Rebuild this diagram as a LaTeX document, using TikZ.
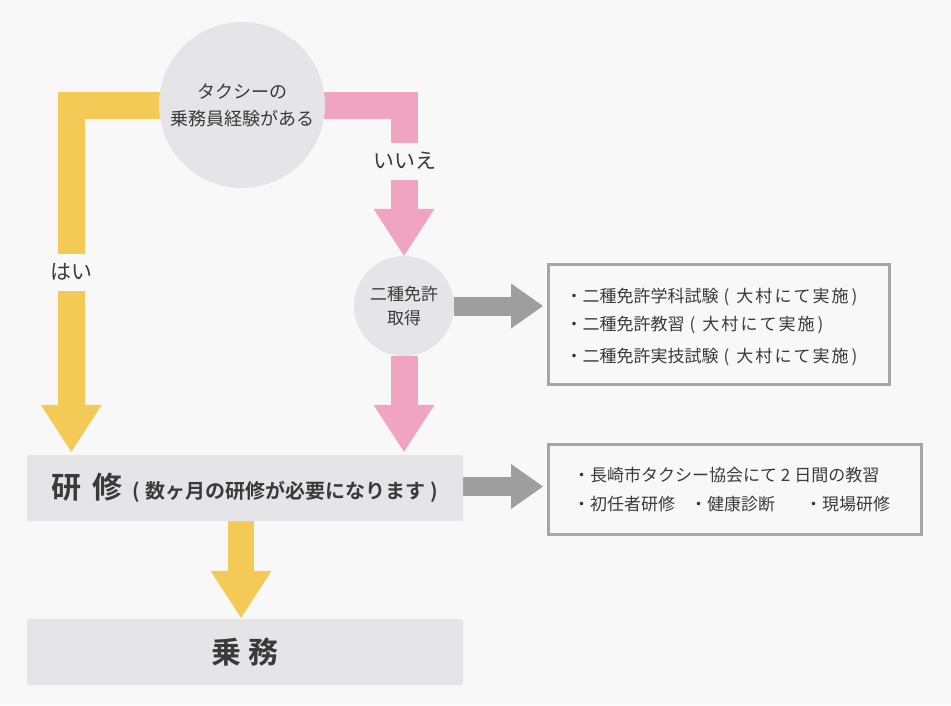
\documentclass[tikz,border=0pt]{standalone}
\usepackage{fontspec}
\setmainfont{Noto Sans CJK JP}[BoldFont={Noto Sans CJK JP Bold}]
\newfontfamily\widejp{Noto Sans CJK JP}[LetterSpace=12]
\usetikzlibrary{arrows.meta, backgrounds}

\definecolor{bgcol}{HTML}{F8F8F8}
\definecolor{yescol}{HTML}{F4CA56}
\definecolor{nocol}{HTML}{F0A4BF}
\definecolor{arrowgray}{HTML}{9E9E9E}
\definecolor{boxfill}{HTML}{E5E5E7}
\definecolor{framegray}{HTML}{A6A6A6}
\definecolor{txt}{HTML}{3A3A3A}

% 括号内的“大村にて実施”
\newcommand{\omura}{\hspace{5pt}(\hspace{7pt}{\widejp 大村にて実施}\hspace{3pt})}

\begin{document}
\begin{tikzpicture}[x=1pt, y=-1pt, text=txt,
  bubble/.style={circle, fill=boxfill, inner sep=0pt, align=center},
  graybox/.style={rectangle, fill=boxfill, rounded corners=2pt, inner sep=0pt,
    minimum width=436pt, minimum height=66pt},
  listbox/.style={rectangle, draw=framegray, line width=3pt, fill=bgcol,
    minimum width=341pt, minimum height=120pt},
  listtext/.style={anchor=west, inner sep=0pt, font=\fontsize{17}{17}\selectfont},
  yesarrow/.style={draw=yescol, line width=27pt,
    -{Triangle[length=47pt, width=61pt, line width=0pt]}},
  noarrow/.style={draw=nocol, line width=27pt,
    -{Triangle[length=47pt, width=61pt, line width=0pt]}},
  grayarrow/.style={draw=arrowgray, line width=19pt,
    -{Triangle[length=32pt, width=45pt, line width=0pt]}},
  cut/.style={fill=bgcol, inner xsep=3pt, inner ysep=0pt, minimum height=37pt,
    font=\fontsize{21}{21}\selectfont}]
  \useasboundingbox (0,0) rectangle (951,705);

  % 判断圆
  \node[bubble, minimum size=166pt, font=\fontsize{18}{27}\selectfont] (q) at (242,105)
    {タクシーの\\乗務員経験がある};
  \node[bubble, minimum size=100pt, font=\fontsize{17}{24}\selectfont] (menkyo) at (404,306)
    {二種免許\\取得};

  % 灰色长条
  \node[graybox] (kenshu) at (245,488)
    {{\fontsize{30}{30}\selectfont\bfseries 研\hspace{11pt}修}\hspace{10pt}%
     {\fontsize{20}{20}\selectfont\bfseries (\hspace{6pt}数ヶ月の研修が必要になります\hspace{5pt})}};
  \node[graybox] (jomu) at (245,652)
    {\fontsize{30}{30}\selectfont\bfseries 乗\hspace{7pt}務};

  % 右侧说明框
  \node[listbox] (list1) at (719,324.5) {};
  \node[listtext] (l1a) at (565.5,297) {・二種免許学科試験\omura};
  \node[listtext] (l1b) at (565.5,325) {・二種免許教習\omura};
  \node[listtext] (l1c) at (565.5,357) {・二種免許実技試験\omura};
  \node[listbox, minimum width=373pt, minimum height=90pt] (list2) at (735,489.5) {};
  \node[listtext] (l2a) at (573,475) {・長崎市タクシー協会にて 2 日間の教習};
  \node[listtext] (l2b) at (573,504)
    {・初任者研修\hspace{15pt}・健康診断\hspace{30pt}・現場研修};

  % 箭头放在底层
  \begin{scope}[on background layer]
    \fill[bgcol] (0,0) rectangle (951,705);
    \draw[yesarrow, shorten >=3pt] (q.center) -| ([xshift=44.5pt]kenshu.north west);
    \draw[noarrow] (q.center) -| (menkyo.north);
    \draw[noarrow, shorten >=3pt] (menkyo) -- (menkyo |- kenshu.north);
    \draw[grayarrow, shorten >=4pt] (menkyo) -- (menkyo -| list1.west);
    \draw[grayarrow, shorten >=4pt] ([yshift=1.5pt]kenshu.east) -- ([yshift=1.5pt]kenshu.east -| list2.west);
    \draw[yesarrow, line width=26pt, shorten >=1pt]
      ([xshift=-4pt]kenshu.south) -- ([xshift=-4pt]kenshu.south |- jomu.north);
  \end{scope}

  % 分支标签
  \node[cut] (yes) at (71.5,272) {はい};
  \node[cut] (no) at (404.5,161) {いいえ};
\end{tikzpicture}
\end{document}
